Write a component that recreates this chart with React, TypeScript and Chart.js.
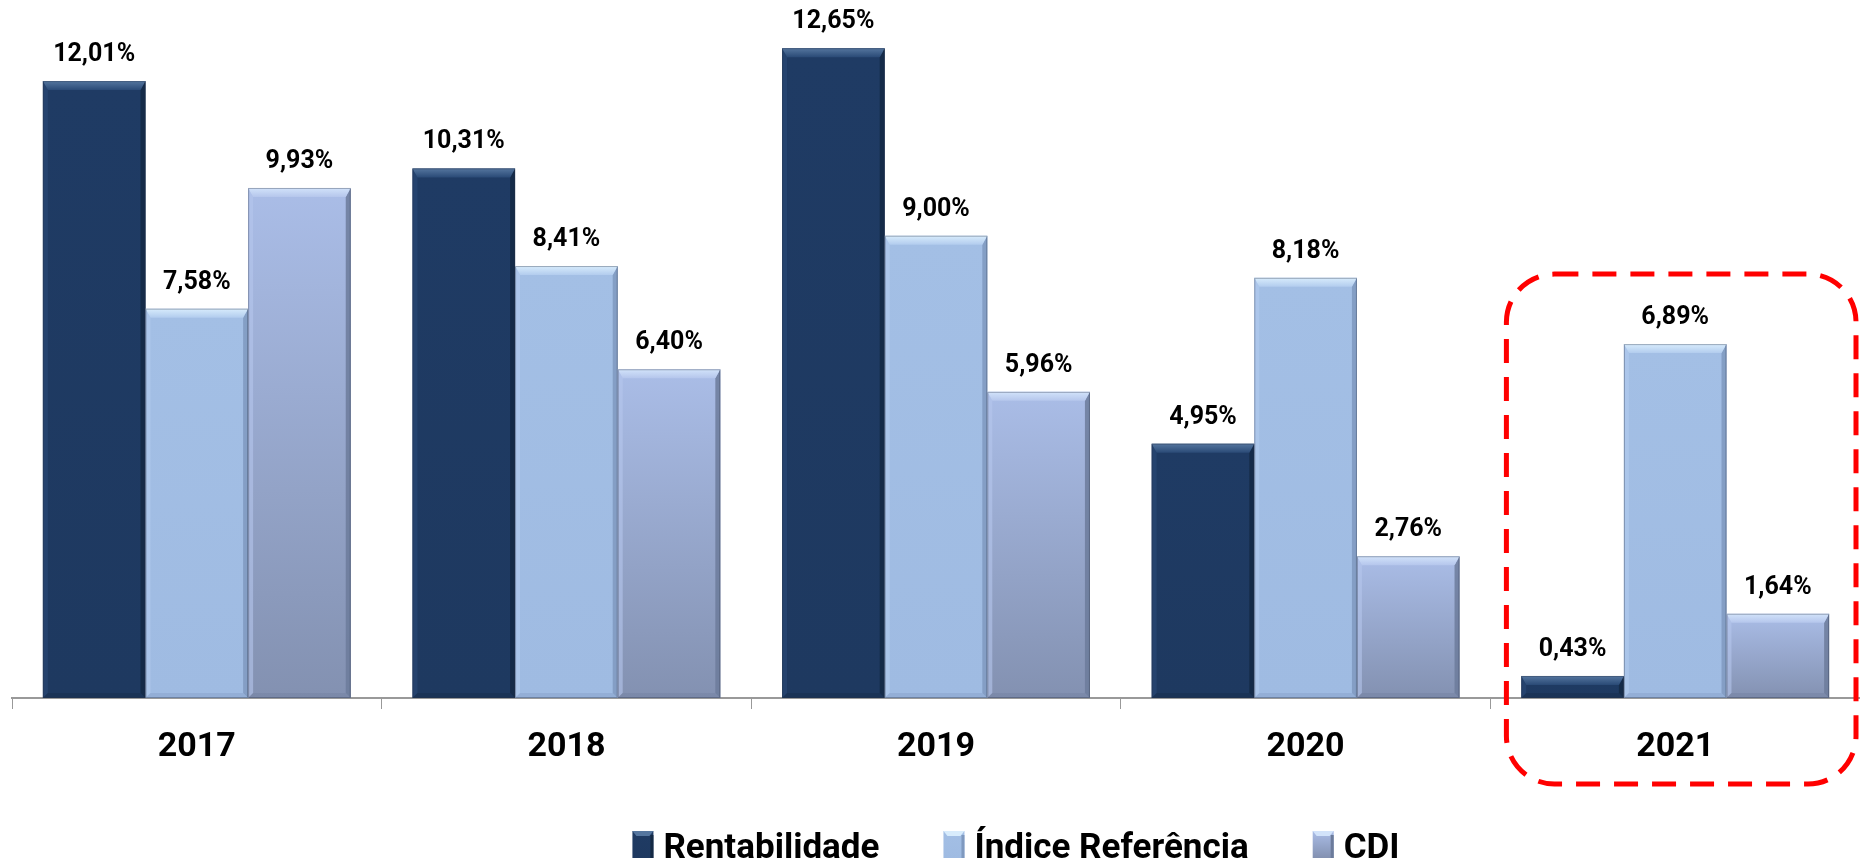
import React, { useEffect, useRef } from "react";
import { Chart, registerables } from "chart.js";

Chart.register(...registerables);

const categories = ["2017", "2018", "2019", "2020", "2021"];
const rentabilidade = [12.01, 10.31, 12.65, 4.95, 0.43];
const indiceReferencia = [7.58, 8.41, 9.0, 8.18, 6.89];
const cdi = [9.93, 6.4, 5.96, 2.76, 1.64];
const seriesLabels = ["Rentabilidade", "Índice Referência", "CDI"];

const FONT = "Roboto, 'Open Sans', sans-serif";

type Style = { top: string; bottom: string; bevel: string; side: string; left: string };
const styles: Style[] = [
  { top: "#1F3B64", bottom: "#1E3960", bevel: "#55769F", side: "#142944", left: "#2A4A76" },
  { top: "#A3BFE5", bottom: "#9FBBE2", bevel: "#D8ECFC", side: "#7F99BF", left: "#B2CCEE" },
  { top: "#AABDE7", bottom: "#8391B1", bevel: "#D2E3FA", side: "#6C7B9B", left: "#B5C6EC" },
];

const fmt = (v: number) => v.toFixed(2).replace(".", ",") + "%";

function barGradient(ctx: CanvasRenderingContext2D, top: number, bottom: number, s: Style) {
  const g = ctx.createLinearGradient(0, top, 0, bottom);
  g.addColorStop(0, s.top);
  g.addColorStop(1, s.bottom);
  return g;
}

const bevelPlugin = {
  id: "bevel",
  afterDatasetsDraw(chart: any) {
    const ctx: CanvasRenderingContext2D = chart.ctx;
    chart.data.datasets.forEach((_ds: any, di: number) => {
      const meta = chart.getDatasetMeta(di);
      const s = styles[di];
      meta.data.forEach((el: any) => {
        const { x, y, base, width } = el.getProps(["x", "y", "base", "width"], true);
        const L = x - width / 2;
        const R = x + width / 2;
        const T = y;
        const B = base;
        const h = B - T;
        const b = Math.min(9, h / 2);
        const sd = Math.min(5, h / 2);
        ctx.save();
        ctx.fillStyle = s.left;
        ctx.globalAlpha = 0.6;
        ctx.beginPath();
        ctx.moveTo(L, T);
        ctx.lineTo(L + sd, T + b);
        ctx.lineTo(L + sd, B - sd);
        ctx.lineTo(L, B);
        ctx.closePath();
        ctx.fill();
        ctx.globalAlpha = 0.85;
        ctx.fillStyle = s.side;
        ctx.beginPath();
        ctx.moveTo(R, T);
        ctx.lineTo(R, B);
        ctx.lineTo(R - sd, B - sd);
        ctx.lineTo(R - sd, T + b);
        ctx.closePath();
        ctx.fill();
        ctx.globalAlpha = 0.35;
        ctx.beginPath();
        ctx.moveTo(L, B);
        ctx.lineTo(R, B);
        ctx.lineTo(R - sd, B - sd);
        ctx.lineTo(L + sd, B - sd);
        ctx.closePath();
        ctx.fill();
        ctx.globalAlpha = 1;
        const g = ctx.createLinearGradient(0, T, 0, T + b);
        g.addColorStop(0, s.bevel);
        g.addColorStop(1, s.left);
        ctx.fillStyle = g;
        ctx.beginPath();
        ctx.moveTo(L, T);
        ctx.lineTo(R, T);
        ctx.lineTo(R - sd, T + b);
        ctx.lineTo(L + sd, T + b);
        ctx.closePath();
        ctx.fill();
        ctx.strokeStyle = "rgba(40,50,70,0.35)";
        ctx.lineWidth = 1;
        ctx.strokeRect(L + 0.5, T + 0.5, width - 1, h - 1);
        ctx.restore();
      });
    });
  },
};

const labelPlugin = {
  id: "valueLabels",
  afterDatasetsDraw(chart: any) {
    const ctx: CanvasRenderingContext2D = chart.ctx;
    ctx.save();
    ctx.font = `bold 25px ${FONT}`;
    ctx.fillStyle = "#000";
    ctx.textAlign = "center";
    ctx.textBaseline = "alphabetic";
    chart.data.datasets.forEach((ds: any, di: number) => {
      const meta = chart.getDatasetMeta(di);
      meta.data.forEach((el: any, i: number) => {
        ctx.fillText(fmt(ds.data[i]), el.x, el.y - 20);
      });
    });
    ctx.font = `bold 34px ${FONT}`;
    ctx.textBaseline = "middle";
    const xs = chart.scales.x;
    categories.forEach((c, i) => {
      ctx.fillText(c, xs.getPixelForValue(i), chart.chartArea.bottom + 49);
    });
    ctx.restore();
  },
};

const legendPlugin = {
  id: "customLegend",
  afterDraw(chart: any) {
    const ctx: CanvasRenderingContext2D = chart.ctx;
    ctx.save();
    ctx.font = `bold 35px ${FONT}`;
    const boxW = 21;
    const boxH = 27;
    const gap = 10;
    const itemGap = 64;
    const widths = seriesLabels.map((t) => boxW + gap + ctx.measureText(t).width);
    const total = widths.reduce((a, b) => a + b, 0) + itemGap * (widths.length - 1);
    const centerX = (chart.chartArea.left + chart.chartArea.right) / 2 + 80;
    const baseline = chart.height - 3;
    let x = centerX - total / 2;
    seriesLabels.forEach((t, i) => {
      const s = styles[i];
      const top = baseline - boxH;
      ctx.fillStyle = barGradient(ctx, top, baseline, s);
      ctx.fillRect(x, top, boxW, boxH);
      ctx.fillStyle = s.bevel;
      ctx.beginPath();
      ctx.moveTo(x, top);
      ctx.lineTo(x + boxW, top);
      ctx.lineTo(x + boxW - 4, top + 5);
      ctx.lineTo(x + 4, top + 5);
      ctx.closePath();
      ctx.fill();
      ctx.fillStyle = s.side;
      ctx.fillRect(x + boxW - 3, top + 4, 3, boxH - 4);
      ctx.fillStyle = "#000";
      ctx.textAlign = "left";
      ctx.textBaseline = "alphabetic";
      ctx.fillText(t, x + boxW + gap, baseline);
      x += widths[i] + itemGap;
    });
    ctx.restore();
  },
};

const highlightPlugin = {
  id: "highlightBox",
  afterDraw(chart: any) {
    const ctx: CanvasRenderingContext2D = chart.ctx;
    const xs = chart.scales.x;
    const last = categories.length - 1;
    const catW = (chart.chartArea.right - chart.chartArea.left) / categories.length;
    const cx = xs.getPixelForValue(last);
    const left = cx - catW / 2 + 16;
    const right = cx + catW / 2 - 4;
    const top = chart.scales.y.getPixelForValue(indiceReferencia[last]) - 70;
    const bottom = chart.chartArea.bottom + 86;
    ctx.save();
    ctx.strokeStyle = "#FF0000";
    ctx.lineWidth = 5;
    ctx.setLineDash([24, 14]);
    ctx.beginPath();
    (ctx as any).roundRect(left, top, right - left, bottom - top, 48);
    ctx.stroke();
    ctx.restore();
  },
};

export default function App() {
  const ref = useRef<HTMLCanvasElement | null>(null);
  useEffect(() => {
    if (!ref.current) return;
    const mkBg = (di: number) => (c: any) => {
      const chart = c.chart;
      const s = styles[di];
      if (!chart.chartArea || c.parsed == null) return s.top;
      const y = chart.scales.y.getPixelForValue(c.parsed.y);
      const b = chart.scales.y.getPixelForValue(0);
      return barGradient(chart.ctx, y, b, s);
    };
    const chart = new Chart(ref.current, {
      type: "bar",
      data: {
        labels: categories,
        datasets: [
          { label: seriesLabels[0], data: rentabilidade, backgroundColor: mkBg(0) },
          { label: seriesLabels[1], data: indiceReferencia, backgroundColor: mkBg(1) },
          { label: seriesLabels[2], data: cdi, backgroundColor: mkBg(2) },
        ],
      },
      options: {
        animation: false,
        responsive: true,
        maintainAspectRatio: false,
        layout: { padding: { top: 20, left: 12, right: 0, bottom: 152 } },
        datasets: { bar: { categoryPercentage: 0.833, barPercentage: 1, borderWidth: 0 } },
        plugins: { legend: { display: false }, tooltip: { enabled: false } },
        scales: {
          y: { display: false, min: 0, max: 13.2 },
          x: {
            offset: true,
            grid: {
              offset: true,
              drawOnChartArea: false,
              drawTicks: true,
              tickLength: 11,
              color: "#999999",
            },
            border: { display: true, color: "#999999", width: 2 },
            ticks: { display: false },
          },
        },
      },
      plugins: [bevelPlugin, labelPlugin, highlightPlugin, legendPlugin],
    });
    return () => chart.destroy();
  }, []);
  return (
    <div style={{ position: "fixed", left: 0, top: 0, width: 1860, height: 861, background: "#fff" }}>
      <canvas ref={ref} />
    </div>
  );
}
